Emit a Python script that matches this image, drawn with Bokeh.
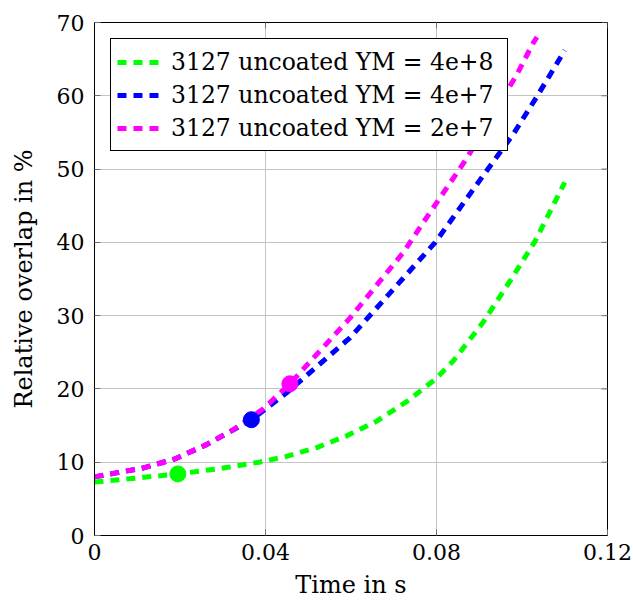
import math
from bokeh.plotting import figure
from bokeh.models import Range1d, FixedTicker, CustomJSTickFormatter, Legend, LegendItem
from bokeh.embed import file_html
from bokeh.resources import INLINE

# --- data ---
t_green = [0.0, 0.0074, 0.0195, 0.0301, 0.0385, 0.0449, 0.052, 0.059, 0.066, 0.0731, 0.0797,
           0.0839, 0.0909, 0.0973, 0.1031, 0.11]
y_green = [7.3, 7.7, 8.4, 9.2, 10.0, 10.8, 12.0, 13.6, 15.6, 18.3, 21.3,
           23.8, 29.1, 34.8, 40.2, 48.2]

t_blue = [0.0, 0.0113, 0.0188, 0.0262, 0.0324, 0.0367, 0.045, 0.0598, 0.0722, 0.0797,
          0.0909, 0.098, 0.1036, 0.11]
y_blue = [8.0, 9.2, 10.45, 12.4, 14.4, 15.8, 19.5, 27.0, 35.1, 40.0,
          49.1, 54.8, 60.0, 66.2]

t_mag = [0.0, 0.0113, 0.0188, 0.0262, 0.0324, 0.0395, 0.0457, 0.0598, 0.0722, 0.0785,
         0.0848, 0.0872, 0.0989, 0.1027, 0.1035]
y_mag = [8.0, 9.2, 10.45, 12.4, 14.4, 17.3, 20.7, 29.7, 38.6, 44.1,
         49.5, 51.6, 63.0, 67.3, 68.0]

mark_t = [0.0195, 0.0367, 0.0457]
mark_y = [8.4, 15.8, 20.7]

labels = ["3127 uncoated YM = 4e+8", "3127 uncoated YM = 4e+7", "3127 uncoated YM = 2e+7"]
colors = ["#00ff00", "#0000ff", "#ff00ff"]

x_ticks = [0, 0.04, 0.08, 0.12]
y_ticks = [0, 10, 20, 30, 40, 50, 60, 70]

FONT = "DejaVu Serif"
TICK_COLOR = "#707070"

p = figure(width=633, height=603, output_backend="svg", toolbar_location=None,
           x_range=Range1d(0, 0.12), y_range=Range1d(0, 70),
           min_border_left=94, min_border_right=26, min_border_top=22, min_border_bottom=68)
p.background_fill_color = "white"
p.border_fill_color = "white"
p.outline_line_color = "black"
p.outline_line_width = 1

for ax in (p.xaxis[0], p.yaxis[0]):
    ax.major_label_text_font = FONT
    ax.major_label_text_font_size = "22px"
    ax.major_label_text_color = "black"
    ax.axis_label_text_font = FONT
    ax.axis_label_text_font_size = "24px"
    ax.axis_label_text_font_style = "normal"
    ax.axis_label_text_color = "black"
    ax.axis_line_color = "black"
    ax.major_tick_in = 6
    ax.major_tick_out = 0
    ax.major_tick_line_color = TICK_COLOR
    ax.minor_tick_line_color = None

p.xaxis[0].ticker = FixedTicker(ticks=x_ticks)
p.xaxis[0].formatter = CustomJSTickFormatter(code="return tick === 0 ? '0' : tick.toFixed(2);")
p.xaxis[0].axis_label = "Time in s"
p.xaxis[0].major_label_standoff = 8
p.xaxis[0].axis_label_standoff = 8

p.yaxis[0].ticker = FixedTicker(ticks=y_ticks)
p.yaxis[0].axis_label = "Relative overlap in %"
p.yaxis[0].major_label_standoff = 10
p.yaxis[0].axis_label_standoff = 16

p.xgrid.ticker = FixedTicker(ticks=x_ticks)
p.ygrid.ticker = FixedTicker(ticks=y_ticks)
p.xgrid.grid_line_color = "#c4c4c4"
p.ygrid.grid_line_color = "#c4c4c4"

# mirrored inward tick marks on the right and top frame edges
p.ray(x=[x_ticks[-1]] * len(y_ticks), y=y_ticks, length=6, length_units="screen",
      angle=math.pi, line_color=TICK_COLOR, line_width=1)
p.ray(x=x_ticks, y=[y_ticks[-1]] * len(x_ticks), length=6, length_units="screen",
      angle=-math.pi / 2, line_color=TICK_COLOR, line_width=1)

series = [(t_green, y_green), (t_blue, y_blue), (t_mag, y_mag)]
items = []
for (tx, ty), c, lab in zip(series, colors, labels):
    r = p.line(tx, ty, line_color=c, line_width=5, line_dash="9 7", line_join="round")
    items.append(LegendItem(label=lab, renderers=[r]))

p.scatter(mark_t, mark_y, size=16, fill_color=colors, line_color=colors, marker="circle")

legend = Legend(items=items, location="top_left", margin=16, padding=6,
                spacing=0, label_height=33, label_width=330, glyph_width=42, glyph_height=24,
                label_standoff=12,
                label_text_font=FONT, label_text_font_size="23.5px", label_text_color="black",
                border_line_color="black", border_line_width=1, border_line_alpha=1,
                background_fill_color="white", background_fill_alpha=1)
p.add_layout(legend, "center")

open("out.html", "w").write(file_html(p, INLINE))
